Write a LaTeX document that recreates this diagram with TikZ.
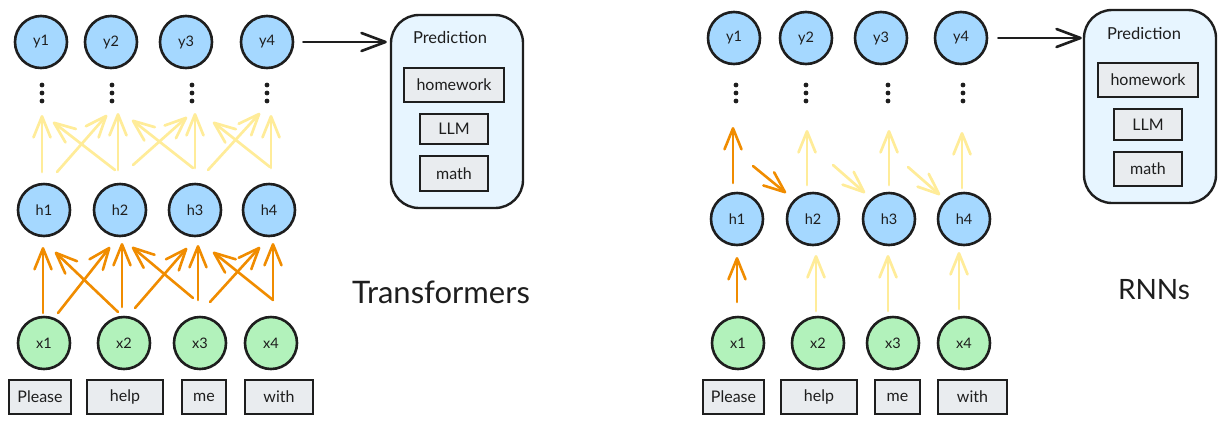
\documentclass[tikz,border=0pt]{standalone}
\usepackage{fontspec}
\setmainfont{Lato}
\usetikzlibrary{arrows.meta,calc}
\definecolor{ink}{HTML}{1E1E1E}
\definecolor{cblue}{HTML}{A5D8FF}
\definecolor{cgreen}{HTML}{B2F2BB}
\definecolor{cgrey}{HTML}{E9ECEF}
\definecolor{cpale}{HTML}{E7F5FF}
\definecolor{corange}{HTML}{F08C00}
\definecolor{cyellow}{HTML}{FFEC99}
\tikzset{
  circnode/.style={circle, draw=ink, line width=2.6pt, minimum size=52pt, inner sep=0pt,
    font=\fontsize{14.5}{16}\selectfont, text=ink},
  bc/.style={circnode, fill=cblue},
  gc/.style={circnode, fill=cgreen},
  wordbox/.style={rectangle, draw=ink, fill=cgrey, line width=1.9pt, inner sep=0pt,
    minimum height=34pt, font=\fontsize{16}{18}\selectfont, text=ink},
  predbox/.style={rectangle, rounded corners=28pt, draw=ink, fill=cpale, line width=2.4pt,
    minimum width=132pt, minimum height=193pt, inner sep=0pt},
  dotsnode/.style={inner sep=0pt, minimum width=8pt, minimum height=22pt},
  barb/.style={-{Straight Barb[length=21pt,width=17pt,line cap=round,line join=round]},
    line cap=round, line join=round},
  yarr/.style={barb, draw=cyellow, line width=2.7pt},
  oarr/.style={barb, draw=corange, line width=2.6pt},
  karr/.style={-{Straight Barb[length=24pt,width=18pt,line cap=round,line join=round]},
    draw=ink, line width=2.6pt, line cap=round},
  title/.style={font=\fontsize{31}{35}\selectfont, text=ink},
  predtitle/.style={font=\fontsize{16.5}{18}\selectfont, text=ink},
}
\newcommand{\threedots}[1]{%
  \fill[ink] ($(#1)+(0,-8)$) circle (2.4pt);
  \fill[ink] ($(#1)+(0,0)$) circle (2.4pt);
  \fill[ink] ($(#1)+(0,8)$) circle (2.4pt);}
\begin{document}
\begin{tikzpicture}[x=1pt,y=-1pt]
\useasboundingbox (0,0) rectangle (1226,424);

% ================= LEFT: Transformers =================
\node[bc] (yL1) at (41,42) {y1};
\node[bc] (yL2) at (111,42) {y2};
\node[bc] (yL3) at (186,42) {y3};
\node[bc] (yL4) at (267,42) {y4};

\node[dotsnode] (dL1) at (42,93) {};
\node[dotsnode] (dL2) at (112,93) {};
\node[dotsnode] (dL3) at (192,93) {};
\node[dotsnode] (dL4) at (267,93) {};
\threedots{dL1}\threedots{dL2}\threedots{dL3}\threedots{dL4}

\node[bc] (hL1) at (44,210) {h1};
\node[bc] (hL2) at (120,210) {h2};
\node[bc] (hL3) at (195,210) {h3};
\node[bc] (hL4) at (269,210) {h4};

\node[gc] (xL1) at (44,343) {x1};
\node[gc] (xL2) at (124,343) {x2};
\node[gc] (xL3) at (200,343) {x3};
\node[gc] (xL4) at (271,343) {x4};

\node[wordbox, minimum width=62pt] (wL1) at (40,397) {Please};
\node[wordbox, minimum width=76pt] (wL2) at (125,397) {help};
\node[wordbox, minimum width=44pt] (wL3) at (204,397) {me};
\node[wordbox, minimum width=68pt] (wL4) at (279,397) {with};

% h -> dots (yellow)
\draw[yarr] ([shift={(-2,-38)}]hL1.center) -- ([shift={(0,22)}]dL1.center);
\draw[yarr] ([shift={(13,-38)}]hL1.center) -- ([shift={(-5,22)}]dL2.center);
\draw[yarr] ([shift={(-5,-40)}]hL2.center) -- ([shift={(11,29)}]dL1.center);
\draw[yarr] ([shift={(-2,-40)}]hL2.center) -- ([shift={(6,20)}]dL2.center);
\draw[yarr] ([shift={(13,-45)}]hL2.center) -- ([shift={(-5,24)}]dL3.center);
\draw[yarr] ([shift={(-2,-42)}]hL3.center) -- ([shift={(20,27)}]dL2.center);
\draw[yarr] ([shift={(0,-42)}]hL3.center) -- ([shift={(3,20)}]dL3.center);
\draw[yarr] ([shift={(13,-40)}]hL3.center) -- ([shift={(-7,20)}]dL4.center);
\draw[yarr] ([shift={(1,-43)}]hL4.center) -- ([shift={(21,29)}]dL3.center);
\draw[yarr] ([shift={(2,-42)}]hL4.center) -- ([shift={(4,22)}]dL4.center);

% x -> h (orange)
\draw[oarr] ([shift={(-1,-30)}]xL1.center) -- ([shift={(-1,37)}]hL1.center);
\draw[oarr] ([shift={(14,-30)}]xL1.center) -- ([shift={(-10,37)}]hL2.center);
\draw[oarr] ([shift={(-6,-31)}]xL2.center) -- ([shift={(11,42)}]hL1.center);
\draw[oarr] ([shift={(-2,-36)}]xL2.center) -- ([shift={(2,33)}]hL2.center);
\draw[oarr] ([shift={(11,-35)}]xL2.center) -- ([shift={(-8,38)}]hL3.center);
\draw[oarr] ([shift={(-7,-45)}]xL3.center) -- ([shift={(12,37)}]hL2.center);
\draw[oarr] ([shift={(-2,-43)}]xL3.center) -- ([shift={(3,35)}]hL3.center);
\draw[oarr] ([shift={(10,-41)}]xL3.center) -- ([shift={(-9,37)}]hL4.center);
\draw[oarr] ([shift={(2,-43)}]xL4.center) -- ([shift={(18,42)}]hL3.center);
\draw[oarr] ([shift={(2,-43)}]xL4.center) -- ([shift={(4,33)}]hL4.center);

% prediction box left
\node[predbox] (pL) at (457,111.5) {};
\node[predtitle] (pLt) at (450,37) {Prediction};
\node[wordbox, minimum width=100pt] (pL1) at (454,85) {homework};
\node[wordbox, minimum width=68pt, minimum height=30pt] (pL2) at (454,129) {LLM};
\node[wordbox, minimum width=68pt, minimum height=35pt] (pL3) at (454,173.5) {math};

\draw[karr, shorten <=9pt, shorten >=3pt] (yL4.east) -- (yL4.east -| pL.west);

\node[title] (tL) at (441,292) {Transformers};

% ================= RIGHT: RNNs =================
\node[bc] (yR1) at (734,38) {y1};
\node[bc] (yR2) at (806,38) {y2};
\node[bc] (yR3) at (881,38) {y3};
\node[bc] (yR4) at (961,38) {y4};

\node[dotsnode] (dR1) at (736,93) {};
\node[dotsnode] (dR2) at (806,93) {};
\node[dotsnode] (dR3) at (888,93) {};
\node[dotsnode] (dR4) at (963,93) {};
\threedots{dR1}\threedots{dR2}\threedots{dR3}\threedots{dR4}

\node[bc] (hR1) at (737,219) {h1};
\node[bc] (hR2) at (813,219) {h2};
\node[bc] (hR3) at (889,219) {h3};
\node[bc] (hR4) at (964,219) {h4};

\node[gc] (xR1) at (738,343) {x1};
\node[gc] (xR2) at (818,343) {x2};
\node[gc] (xR3) at (893,343) {x3};
\node[gc] (xR4) at (964,343) {x4};

\node[wordbox, minimum width=61pt] (wR1) at (733.5,397) {Please};
\node[wordbox, minimum width=76pt] (wR2) at (819,397) {help};
\node[wordbox, minimum width=45pt] (wR3) at (897.5,397) {me};
\node[wordbox, minimum width=69pt] (wR4) at (972.5,397) {with};

\draw[oarr] ([shift={(-1,-41)}]xR1.center) -- ([shift={(0,38)}]hR1.center);
\draw[yarr] ([shift={(-2,-32)}]xR2.center) -- ([shift={(3,36)}]hR2.center);
\draw[yarr] ([shift={(-5,-32)}]xR3.center) -- ([shift={(-1,36)}]hR3.center);
\draw[yarr] ([shift={(-5,-34)}]xR4.center) -- ([shift={(-5,33)}]hR4.center);

\draw[oarr] ([shift={(-4,-36)}]hR1.center) -- ([shift={(-3,34)}]dR1.center);
\draw[oarr] ([shift={(16,-53)}]hR1.center) -- ([shift={(-27,-26)}]hR2.center);
\draw[yarr] ([shift={(-6,-34)}]hR2.center) -- ([shift={(1,37)}]dR2.center);
\draw[yarr] ([shift={(20,-54)}]hR2.center) -- ([shift={(-24,-26)}]hR3.center);
\draw[yarr] ([shift={(0,-34)}]hR3.center) -- ([shift={(1,37)}]dR3.center);
\draw[yarr] ([shift={(19,-52)}]hR3.center) -- ([shift={(-24,-24)}]hR4.center);
\draw[yarr] ([shift={(-2,-31)}]hR4.center) -- ([shift={(-1,39)}]dR4.center);

\node[predbox] (pR) at (1150,106.5) {};
\node[predtitle] (pRt) at (1144,33) {Prediction};
\node[wordbox, minimum width=100pt] (pR1) at (1148,80) {homework};
\node[wordbox, minimum width=68pt, minimum height=31pt] (pR2) at (1148,124.5) {LLM};
\node[wordbox, minimum width=68pt, minimum height=34pt] (pR3) at (1148,169) {math};

\draw[karr, shorten <=10pt, shorten >=1pt] (yR4.east) -- (yR4.east -| pR.west);

\node[title, font=\fontsize{28}{32}\selectfont] (tR) at (1154,290) {RNNs};
\end{tikzpicture}
\end{document}
